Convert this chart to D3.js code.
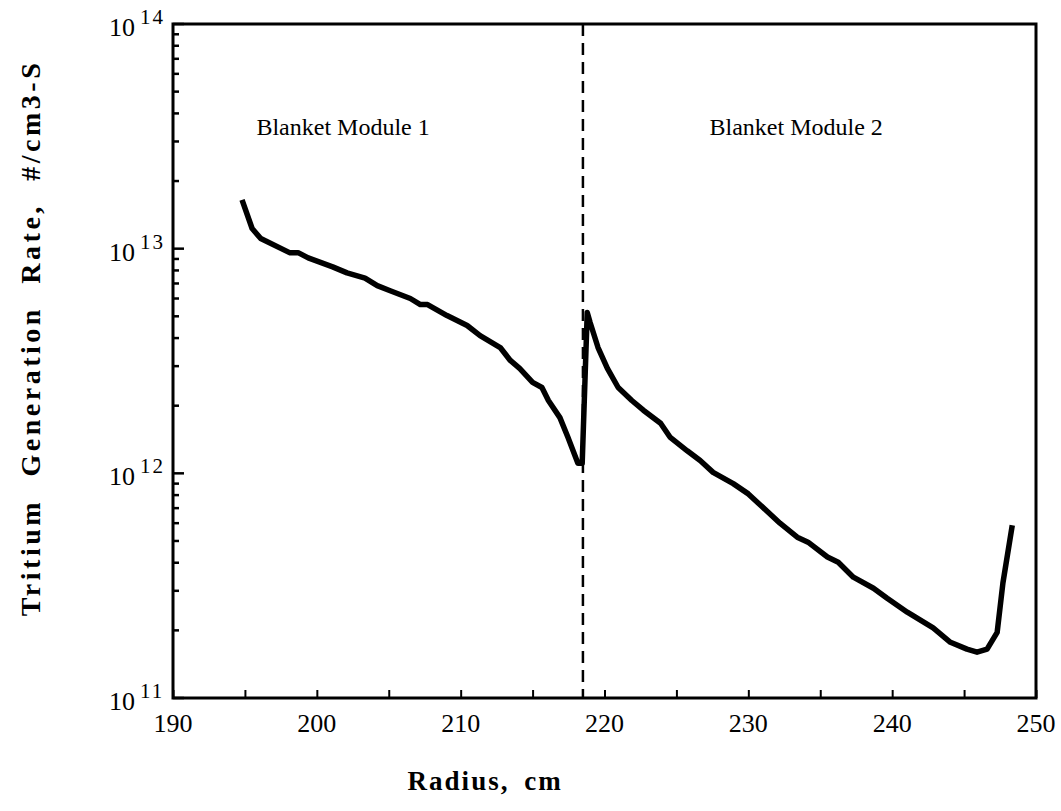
<!DOCTYPE html>
<html lang="en">
<head>
    <meta charset="UTF-8">
    <title>Tritium Generation Rate</title>
    <script src="https://d3js.org/d3.v7.min.js"></script>
    <style>
        body { margin: 0; background: #fff; }
        text { font-family: "Liberation Serif", "Times New Roman", serif; fill: #000; }
    </style>
</head>
<body>
    <div id="chart"></div>
    <script>
        // radius (cm) and tritium generation rate (#/cm3-s)
        const radius = [194.8, 195.5, 196.1, 198.1, 198.7, 199.4, 201.1, 202.1, 203.35, 204.2,
            205.1, 206.5, 207.2, 207.7, 209.05, 210.45, 211.35, 212.75, 213.45, 214.1,
            215.0, 215.65, 216.1, 216.9, 217.45, 218.15, 218.45, 218.8, 219.0, 219.55,
            220.2, 220.95, 221.9, 222.7, 223.9, 224.55, 225.75, 226.65, 227.55, 228.95,
            230.0, 232.2, 233.4, 234.15, 235.5, 236.25, 237.3, 238.7, 239.65, 241.05,
            242.85, 244.05, 245.2, 245.9, 246.6, 247.3, 247.7, 248.35];
        const rate = [1.65e13, 1.23e13, 1.11e13, 9.6e12, 9.6e12, 9.1e12, 8.3e12, 7.8e12, 7.4e12, 6.85e12,
            6.5e12, 6.0e12, 5.64e12, 5.64e12, 5.04e12, 4.55e12, 4.1e12, 3.63e12, 3.18e12, 2.93e12,
            2.54e12, 2.41e12, 2.11e12, 1.77e12, 1.45e12, 1.11e12, 1.11e12, 5.2e12, 4.69e12, 3.63e12,
            2.93e12, 2.41e12, 2.11e12, 1.91e12, 1.67e12, 1.45e12, 1.26e12, 1.14e12, 1.01e12, 9.0e11,
            8.1e11, 6.0e11, 5.2e11, 4.94e11, 4.24e11, 4.02e11, 3.45e11, 3.08e11, 2.78e11, 2.41e11,
            2.05e11, 1.77e11, 1.65e11, 1.60e11, 1.65e11, 1.96e11, 3.25e11, 5.87e11];

        const xTicks = [190, 200, 210, 220, 230, 240, 250];
        const yDecades = [11, 12, 13, 14];
        const boundary = 218.5;
        const labels = [
            {text: "Blanket Module 1", x: 195.8},
            {text: "Blanket Module 2", x: 227.3}
        ];

        const width = 1061, height = 811;
        const margin = {top: 24, right: 25, bottom: 113, left: 173};

        const x = d3.scaleLinear()
            .domain([190, 250])
            .range([margin.left, width - margin.right]);

        const y = d3.scaleLog()
            .domain([1e11, 1e14])
            .range([height - margin.bottom, margin.top]);

        const svg = d3.select("#chart").append("svg")
            .attr("width", width)
            .attr("height", height);

        // bottom axis, ticks pointing inward
        const xAxis = svg.append("g")
            .attr("transform", `translate(0,${height - margin.bottom})`)
            .call(d3.axisBottom(x).tickValues(d3.range(190, 251, 5)).tickSize(-8).tickFormat(""));
        xAxis.select(".domain").remove();
        xAxis.selectAll(".tick line").attr("stroke-width", 2);

        svg.append("g")
            .selectAll("text")
            .data(xTicks)
            .enter().append("text")
            .attr("x", d => x(d))
            .attr("y", height - margin.bottom + 34)
            .attr("text-anchor", "middle")
            .attr("font-size", 26)
            .text(d => d);

        // left axis: major and minor log ticks, inward
        const minor = [];
        for (let e = 11; e < 14; e++) {
            for (let k = 2; k <= 9; k++) minor.push(k * Math.pow(10, e));
        }
        svg.append("g")
            .selectAll("line")
            .data(minor)
            .enter().append("line")
            .attr("x1", margin.left).attr("x2", margin.left + 6)
            .attr("y1", d => y(d)).attr("y2", d => y(d))
            .attr("stroke", "#000").attr("stroke-width", 2.5);
        svg.append("g")
            .selectAll("line")
            .data(yDecades)
            .enter().append("line")
            .attr("x1", margin.left).attr("x2", margin.left + 11)
            .attr("y1", d => y(Math.pow(10, d))).attr("y2", d => y(Math.pow(10, d)))
            .attr("stroke", "#000").attr("stroke-width", 2.5);

        const yLab = svg.append("g")
            .selectAll("g")
            .data(yDecades)
            .enter().append("g");
        yLab.append("text")
            .attr("x", 135)
            .attr("y", d => y(Math.pow(10, d)) + 12)
            .attr("text-anchor", "end")
            .attr("font-size", 26)
            .text("10");
        yLab.append("text")
            .attr("x", 140)
            .attr("y", d => y(Math.pow(10, d)))
            .attr("font-size", 21)
            .attr("letter-spacing", 2)
            .text(d => d);

        // frame
        svg.append("rect")
            .attr("x", margin.left)
            .attr("y", margin.top)
            .attr("width", width - margin.left - margin.right)
            .attr("height", height - margin.top - margin.bottom)
            .attr("fill", "none")
            .attr("stroke", "#000")
            .attr("stroke-width", 3);

        // module boundary
        svg.append("line")
            .attr("x1", x(boundary)).attr("x2", x(boundary))
            .attr("y1", margin.top).attr("y2", height - margin.bottom)
            .attr("stroke", "#000")
            .attr("stroke-width", 2.5)
            .attr("stroke-dasharray", "12,7");

        const line = d3.line()
            .x((d, i) => x(radius[i]))
            .y(d => y(d));

        svg.append("path")
            .datum(rate)
            .attr("fill", "none")
            .attr("stroke", "#000")
            .attr("stroke-width", 5.5)
            .attr("stroke-linejoin", "round")
            .attr("d", line);

        svg.append("g")
            .selectAll("text")
            .data(labels)
            .enter().append("text")
            .attr("x", d => x(d.x))
            .attr("y", 135)
            .attr("font-size", 24)
            .text(d => d.text);

        // axis titles
        svg.append("text")
            .attr("x", x(211.7))
            .attr("y", 790)
            .attr("text-anchor", "middle")
            .attr("font-size", 27)
            .attr("font-weight", "bold")
            .attr("letter-spacing", 2)
            .attr("word-spacing", 6)
            .text("Radius, cm");

        svg.append("text")
            .attr("transform", "translate(40,338) rotate(-90)")
            .attr("text-anchor", "middle")
            .attr("font-size", 28)
            .attr("font-weight", "bold")
            .attr("letter-spacing", 3.5)
            .attr("word-spacing", 12)
            .text("Tritium Generation Rate, #/cm3-S");
    </script>
</body>
</html>
